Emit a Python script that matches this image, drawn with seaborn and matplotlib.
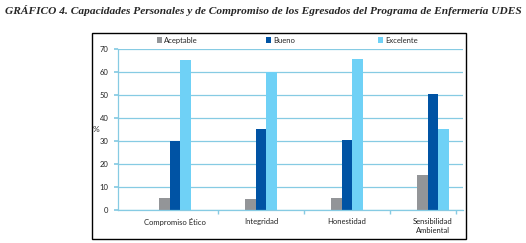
import matplotlib
matplotlib.use("Agg")
import matplotlib.pyplot as plt
import seaborn as sns
import pandas as pd
from matplotlib.patches import Rectangle
from matplotlib.legend import Legend

categories = ["Compromiso Ético", "Integridad", "Honestidad", "Sensibilidad\nAmbiental"]
series = ["Aceptable", "Bueno", "Excelente"]
aceptable = [5.2, 4.9, 5.2, 15.3]
bueno = [30.1, 35.3, 30.4, 50.4]
excelente = [65.1, 60.1, 65.5, 35.3]
yticks = [0, 10, 20, 30, 40, 50, 60, 70]
title = "GRÁFICO 4. Capacidades Personales y de Compromiso de los Egresados del Programa de Enfermería UDES"

colors = ["#939598", "#0053A4", "#6FD1F6"]
grid_c = "#86CBE3"

rows = []
for s, vals in zip(series, [aceptable, bueno, excelente]):
    for c, v in zip(categories, vals):
        rows.append({"cat": c, "serie": s, "val": v})
df = pd.DataFrame(rows)

sns.set_theme(style="white")
plt.rcParams["font.family"] = ["Lato", "DejaVu Sans"]

fig = plt.figure(figsize=(5.26, 2.43), dpi=100)
ax = fig.add_axes([118 / 526, 33 / 243, 345 / 526, 161 / 243])

sns.barplot(data=df, x="cat", y="val", hue="serie", palette=colors, width=0.37,
            ax=ax, saturation=1, errorbar=None, linewidth=0, legend=True)

ax.set_xlim(-0.663, 3.349)
ax.set_ylim(0, 70)
ax.set_yticks(yticks)
ax.set_yticklabels([str(t) for t in yticks], fontsize=5.5, color="#222222")
ax.set_xticks(range(len(categories)))
ax.set_xticklabels(categories, fontsize=5.5, color="#222222")
ax.tick_params(axis="x", length=0, pad=6)
ax.tick_params(axis="y", length=3, color=grid_c, direction="out", pad=4, left=True)
ax.set_xticks([-0.5 + i for i in range(1, 4)] + [3.27], minor=True)
ax.tick_params(axis="x", which="minor", length=3, color=grid_c, direction="out", bottom=True)
ax.set_xlabel("")
ax.set_ylabel("%", rotation=0, fontsize=6, labelpad=6)
ax.yaxis.set_label_coords(-0.065, 0.48)
ax.grid(axis="y", color=grid_c, linewidth=0.9)
ax.set_axisbelow(True)
for side in ["top", "right"]:
    ax.spines[side].set_visible(False)
for side in ["left", "bottom"]:
    ax.spines[side].set_color(grid_c)
    ax.spines[side].set_linewidth(0.9)

handles, labels = ax.get_legend_handles_labels()
ax.get_legend().remove()
leg_x = [(156.5 - 118) / 345, (265.5 - 118) / 345, (378 - 118) / 345]
for h, l, lx in zip(handles, labels, leg_x):
    lg = Legend(ax, [h], [l], loc="center left", bbox_to_anchor=(lx, 1 + 8.7 / 161),
                frameon=False, fontsize=5.5, handlelength=0.7, handleheight=0.7,
                handletextpad=0.3, borderpad=0, borderaxespad=0)
    ax.add_artist(lg)

fig.patches.append(Rectangle((92 / 526, 4 / 243), 374 / 526, 206 / 243, transform=fig.transFigure,
                             fill=False, edgecolor="black", linewidth=1))

fig.text(0.5, 1 - 10 / 243, title, ha="center", va="center",
         fontfamily="Liberation Serif", fontweight="bold", fontstyle="italic", fontsize=8.2)

fig.savefig("out.png", dpi=100)
